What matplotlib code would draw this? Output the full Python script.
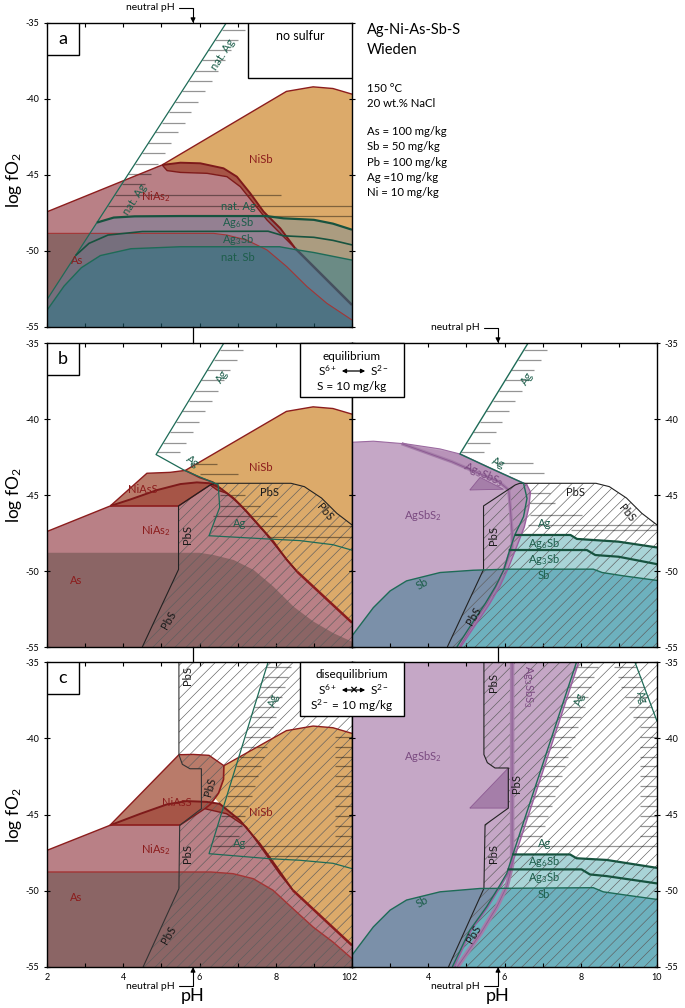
import numpy as np
import matplotlib
matplotlib.use("Agg")
import matplotlib.pyplot as plt
from matplotlib.patches import Polygon, Rectangle, FancyArrowPatch

plt.rcParams['font.family'] = ['Lato', 'DejaVu Sans']
plt.rcParams['mathtext.fontset'] = 'custom'
plt.rcParams['mathtext.rm'] = 'Lato'
plt.rcParams['mathtext.it'] = 'Lato:italic'
plt.rcParams['mathtext.bf'] = 'Lato:bold'
plt.rcParams['hatch.linewidth'] = 0.45
plt.rcParams['axes.unicode_minus'] = False

W, H = 685, 1008
NEUTRAL_PH = 5.83

# ---------------- panel a : no sulfur ----------------
a_ni_top = [(2.0, -47.42), (5.02, -44.34), (8.28, -39.5), (8.98, -39.2), (9.5, -39.31), (10.0, -39.68)]
a_band_up = [(5.02, -44.34), (5.50, -44.19), (6.02, -44.23), (6.63, -44.56), (6.98, -45.11), (7.33, -46.20),
             (7.68, -47.41), (8.12, -48.51), (8.51, -49.82)]
a_band_lo = [(5.02, -44.34), (5.15, -44.71), (5.50, -44.83), (6.20, -44.89), (6.72, -45.11), (7.07, -45.77),
             (7.42, -46.86), (7.77, -47.96), (8.12, -48.84), (8.51, -49.82)]
a_tail = [(8.51, -49.82), (10.0, -53.55)]
a_as_top = [(2.0, -48.84), (6.37, -48.84), (6.72, -48.95), (7.24, -49.28), (7.77, -49.93), (8.29, -51.03),
            (8.82, -52.34), (9.34, -53.44), (10.0, -54.54)]
a_ag = [(2.0, -53.2), (6.70, -35.0)]
a_ag6sb_top = [(3.31, -48.13), (3.75, -47.8), (4.3, -47.72), (5.5, -47.7), (7.75, -47.7), (8.2, -47.85),
               (9.0, -47.95), (9.5, -48.2), (10.0, -48.6)]
a_ag3sb_top = [(2.75, -50.3), (3.1, -49.5), (3.6, -48.95), (4.5, -48.72), (7.8, -48.7), (8.2, -49.0),
               (9.0, -49.1), (9.5, -49.3), (10.0, -49.6)]
a_sb_top = [(2.0, -53.9), (2.45, -52.3), (2.9, -51.1), (3.4, -50.3), (4.2, -49.85), (5.5, -49.72),
            (8.1, -49.72), (8.5, -49.9), (9.0, -50.1), (10.0, -50.6)]
a_ag_ticks = [-35.45, -36.1, -36.8, -37.45, -38.15, -38.8, -39.5, -40.2, -40.85, -41.55, -42.2, -42.9,
              -43.55, -44.25, -44.95, -45.6]
a_ag_long = [(-46.32, 8.13), (-47.02, 10.0)]
a_ag_segs = [(-47.7, 7.6, 10.0)]

# ---------------- panel b : equilibrium, Ni side ----------------
b_ni_top = [(2.0, -47.40), (3.66, -45.72), (4.62, -43.57), (5.23, -43.51), (5.63, -43.38), (8.28, -39.5),
            (8.98, -39.2), (9.5, -39.31), (10.0, -39.68)]
b_niass_nisb = [(5.63, -43.38), (6.0, -43.85), (6.35, -44.15), (6.55, -44.56)]
b_band_up = [(3.66, -45.72), (4.19, -45.29), (4.88, -44.68), (5.50, -44.28), (5.93, -44.17), (6.28, -44.23),
             (6.55, -44.56), (6.90, -45.22), (7.24, -46.09), (7.59, -47.08), (7.94, -48.07), (8.29, -49.27),
             (8.56, -50.04)]
b_band_lo = [(3.66, -45.72), (5.45, -45.72), (6.28, -44.34), (6.46, -44.67), (6.72, -44.89), (7.07, -45.66),
             (7.42, -46.64), (7.77, -47.63), (8.12, -48.73), (8.56, -50.04)]
b_tail = [(8.56, -50.04), (10.0, -53.4)]
b_as_top = [(2.0, -48.80), (6.0, -48.80), (6.37, -48.95), (6.90, -49.28), (7.42, -49.93), (7.94, -51.03),
            (8.47, -52.35), (8.99, -53.33), (9.52, -54.10), (10.0, -54.65)]
b_pbs = [(4.50, -55.0), (5.45, -49.9), (5.45, -45.72), (6.28, -44.34), (6.40, -44.23), (8.40, -44.23),
         (8.75, -44.45), (9.20, -45.20), (9.60, -46.20), (10.0, -46.97)]
bl_ag = [(6.64, -35.0), (4.86, -42.34), (5.62, -43.40), (6.49, -44.32), (6.53, -45.81), (6.25, -47.68),
         (7.84, -47.90), (8.63, -48.0), (9.50, -48.27), (10.0, -48.63)]
b_ag_ticks = [-35.45, -36.1, -36.8, -37.45, -38.15, -38.8, -39.5, -40.2, -40.85, -41.55, -42.2]
bl_ag_segs = [(-42.96, 5.75, 6.45), (-43.62, 6.01, 7.01), (-44.98, 6.53, 7.19), (-45.70, 6.53, 7.58),
              (-46.36, 6.36, 8.02), (-47.07, 6.36, 10.0), (-47.75, 7.76, 10.0)]

# ---------------- panel b : equilibrium, Ag side ----------------
br_ag = [(6.62, -35.0), (4.83, -42.30), (5.6, -43.2), (6.32, -44.02), (6.50, -44.23), (6.59, -45.22),
         (6.50, -46.42), (6.27, -47.63), (6.11, -48.83), (5.98, -49.93), (5.76, -51.03), (5.50, -52.12),
         (5.15, -53.44), (4.75, -55.0)]
br_purple = [(2.0, -41.53), (2.56, -41.46), (3.43, -41.64), (4.31, -41.97), (4.83, -42.30), (5.6, -43.2),
             (6.32, -44.02), (6.58, -44.3), (6.68, -44.8), (6.64, -45.8), (6.52, -47.1), (6.32, -48.4),
             (6.10, -49.8), (5.88, -51.0), (5.60, -52.2), (5.25, -53.5), (4.85, -55.0)]
br_inner = [(3.3, -41.62), (4.62, -42.81), (5.32, -43.57), (5.85, -44.12), (6.11, -44.67), (6.15, -45.77),
            (6.20, -47.52), (6.20, -48.4), (6.11, -49.05), (5.98, -49.93), (5.80, -50.95), (5.55, -52.1),
            (5.2, -53.4), (4.82, -55.0)]
br_notch = [(5.09, -44.67), (5.36, -43.84), (5.97, -44.62)]
br_ag6sb_top = [(6.27, -47.63), (7.73, -47.63), (7.90, -47.89), (8.99, -48.07), (10.0, -48.45)]
br_ag3sb_top = [(6.11, -48.62), (8.16, -48.62), (8.38, -48.95), (8.99, -49.06), (10.0, -49.55)]
br_sb_top = [(2.0, -54.27), (2.56, -52.41), (3.0, -51.31), (3.43, -50.65), (4.31, -50.10), (5.18, -49.95),
             (6.06, -49.88), (8.33, -49.88), (8.56, -50.1), (9.12, -50.32), (10.0, -50.62)]
br_ag_segs = [(-42.92, 5.76, 6.76), (-43.58, 6.11, 7.03), (-44.89, 6.63, 7.20), (-45.55, 6.63, 7.33),
              (-46.31, 6.66, 8.03), (-46.97, 6.62, 10.0), (-47.3, 7.75, 10.0)]

# ---------------- panel c : disequilibrium, Ni side ----------------
c_ni_top = [(2.0, -47.35), (3.65, -45.71), (5.46, -41.08), (5.83, -41.06), (6.25, -41.12), (6.64, -41.8),
            (8.28, -39.5), (8.98, -39.2), (9.5, -39.31), (10.0, -39.68)]
c_niass_nisb = [(6.64, -41.8), (6.63, -42.7), (6.5, -43.6), (6.3, -44.3), (6.14, -44.62)]
c_band_up = [(3.65, -45.71), (4.44, -44.96), (5.14, -44.34), (5.66, -44.12), (6.18, -44.17), (6.53, -44.30),
             (7.06, -45.38), (7.58, -46.91), (8.02, -48.44), (8.45, -49.97)]
c_band_lo = [(3.65, -45.71), (5.48, -45.71), (6.14, -44.62), (6.71, -44.95), (7.23, -45.82), (7.67, -47.35),
             (8.10, -48.88), (8.45, -49.97)]
c_tail = [(8.45, -49.97), (10.0, -53.58)]
c_as_top = [(2.0, -48.77), (6.3, -48.77), (6.88, -48.88), (7.41, -49.21), (7.93, -49.97), (8.45, -51.17),
            (8.98, -52.38), (9.50, -53.36), (10.0, -54.45)]
cl_pbs = [(4.52, -55.0), (5.46, -49.86), (5.48, -45.71), (6.05, -44.62), (6.05, -42.0), (5.75, -42.0),
          (5.55, -41.71), (5.46, -41.08), (5.46, -35.0)]
cl_ag = [(7.80, -35.0), (6.25, -47.57), (7.84, -47.90), (8.63, -48.0), (9.50, -48.2), (10.0, -48.55)]
c_ag_ticks = [-35.35, -36.0, -36.65, -37.3, -37.95, -38.6, -39.25, -39.9, -40.55, -41.2, -41.85, -42.5,
              -43.15, -43.8, -44.45, -45.1, -45.75, -46.4]
c_edge_ticks = [-39.9, -40.55, -41.2, -41.85, -42.5, -43.15, -43.8, -44.45, -45.1, -45.75, -46.4]
c_ag_segs = [(-47.07, 6.32, 10.0), (-47.75, 7.8, 10.0)]

# ---------------- panel c : disequilibrium, Ag side ----------------
cr_pbs = [(4.53, -55.0), (5.46, -49.85), (5.49, -45.68), (6.10, -44.58), (6.10, -41.95), (5.75, -41.95),
          (5.55, -41.6), (5.46, -41.07), (5.46, -35.0)]
cr_ag = [(7.89, -35.0), (6.23, -47.54), (6.06, -48.86), (5.88, -49.63), (5.53, -51.05), (5.09, -52.59),
         (4.63, -55.0)]
cr_ag_edge = [(9.42, -35.0), (10.0, -38.88)]
cr_purple = [(2.0, -35.0), (7.95, -35.0), (6.30, -47.54), (6.10, -48.86), (5.92, -49.63), (5.57, -51.05),
             (5.13, -52.59), (4.68, -55.0)]
cr_inner = [(6.20, -35.0), (6.20, -48.3), (6.06, -49.7), (5.80, -51.05), (5.37, -52.81), (4.76, -55.0)]
cr_notch = [(5.09, -44.58), (6.10, -41.95), (6.10, -44.58)]
cr_ag6sb_top = [(6.20, -47.62), (7.72, -47.62), (7.89, -47.87), (8.68, -47.98), (10.0, -48.5)]
cr_ag3sb_top = [(6.08, -48.6), (8.02, -48.6), (8.24, -48.93), (8.68, -49.04), (10.0, -49.52)]
cr_sb_top = [(2.0, -54.23), (2.56, -52.37), (3.0, -51.27), (3.43, -50.61), (4.31, -50.07), (5.36, -49.85),
             (8.33, -49.80), (8.59, -50.07), (9.2, -50.29), (10.0, -50.57)]
cr_edge_line_ticks = [-35.35, -36.0, -36.65, -37.3, -37.95, -38.6]

# ---------------- labels ----------------
a_labels = [('nat. Ag', 6.62, -37.1, 57, 'ag'), ('nat. Ag', 4.3, -46.6, 57, 'ag'), ('NiSb', 7.62, -43.97, 0, 'ni'),
            ('NiAs$_2$', 4.86, -46.43, 0, 'ni'), ('nat. Ag', 7.01, -47.09, 0, 'ag'),
            ('Ag$_6$Sb', 7.0, -48.14, 0, 'ag'), ('Ag$_3$Sb', 7.0, -49.24, 0, 'ag'),
            ('nat. Sb', 7.0, -50.43, 0, 'ag'), ('As', 2.78, -50.6, 0, 'ni')]
bl_labels = [('Ag', 6.6, -37.2, 57, 'ag'), ('Ag', 5.83, -42.81, -36, 'ag'), ('NiSb', 7.62, -43.18, 0, 'ni'),
             ('NiAsS', 4.52, -44.67, 0, 'ni'), ('PbS', 7.84, -44.82, 0, 'pbs'), ('PbS', 9.28, -46.14, -50, 'pbs'),
             ('NiAs$_2$', 4.86, -47.31, 0, 'ni'), ('PbS', 5.69, -47.57, 90, 'pbs'), ('Ag', 7.06, -46.87, 0, 'ag'),
             ('As', 2.76, -50.6, 0, 'ni'), ('PbS', 5.18, -53.2, 60, 'pbs')]
br_labels = [('Ag', 6.6, -37.3, 57, 'ag'), ('Ag', 5.84, -42.85, -25, 'ag'),
             ('Ag$_3$SbS$_3$', 5.44, -43.62, -25, 'pur'), ('AgSbS$_2$', 3.87, -46.36, 0, 'pur'),
             ('PbS', 7.87, -44.82, 0, 'pbs'), ('PbS', 9.22, -46.21, -50, 'pbs'), ('PbS', 5.72, -47.68, 90, 'pbs'),
             ('Ag', 7.04, -46.87, 0, 'ag'), ('Ag$_6$Sb', 7.03, -48.19, 0, 'ag'), ('Ag$_3$Sb', 7.03, -49.22, 0, 'ag'),
             ('Sb', 7.03, -50.32, 0, 'ag'), ('Sb', 3.83, -50.87, 30, 'ag'), ('PbS', 5.18, -52.96, 60, 'pbs')]
cl_labels = [('PbS', 5.69, -35.87, 90, 'pbs'), ('Ag', 7.95, -37.5, 73, 'ag'), ('PbS', 6.29, -43.2, 75, 'pbs'),
             ('NiAsS', 5.40, -44.22, 0, 'ni'), ('NiSb', 7.62, -44.84, 0, 'ni'), ('NiAs$_2$', 4.86, -47.31, 0, 'ni'),
             ('PbS', 5.69, -47.57, 90, 'pbs'), ('Ag', 7.06, -46.91, 0, 'ag'), ('As', 2.76, -50.45, 0, 'ni'),
             ('PbS', 5.18, -52.92, 60, 'pbs')]
cr_labels = [('PbS', 5.71, -36.36, 90, 'pbs'), ('Ag$_3$SbS$_3$', 6.62, -36.6, -90, 'pur'),
             ('Ag', 7.98, -37.45, 73, 'ag'), ('Ag', 9.6, -37.3, -70, 'ag'), ('AgSbS$_2$', 3.87, -41.18, 0, 'pur'),
             ('PbS', 6.32, -42.94, 90, 'pbs'), ('PbS', 5.72, -47.54, 90, 'pbs'), ('Ag', 7.04, -46.89, 0, 'ag'),
             ('Ag$_6$Sb', 7.03, -48.09, 0, 'ag'), ('Ag$_3$Sb', 7.03, -49.12, 0, 'ag'), ('Sb', 7.03, -50.22, 0, 'ag'),
             ('Sb', 3.83, -50.72, 30, 'ag'), ('PbS', 5.18, -52.81, 60, 'pbs')]

info_lines = ['150 °C', '20 wt.% NaCl', '', 'As = 100 mg/kg', 'Sb = 50 mg/kg', 'Pb = 100 mg/kg',
              'Ag =10 mg/kg', 'Ni = 10 mg/kg']

# ---------------- styles ----------------
C_NISB = '#dcaa6a'
C_NIAS2 = '#b98086'
C_AS = '#8b6565'
C_BAND = '#a65547'
C_NIASS = '#b97b6a'
C_PUR = '#c5a7c6'
C_PUR2 = '#b893b9'
C_PUR3 = '#a57ea9'
C_TEAL_L = '#a9d4d7'
C_TEAL = '#6db1be'
NI_RED = '#8c1d1d'
AG_GREEN = '#1e6b57'
AG_DARK = '#17533f'
PUR_LINE = '#8d5b93'
TICK_GRAY = (0.0, 0.0, 0.0, 0.42)
LAB_COL = {'ni': '#8b1c1c', 'ag': '#1d5e4b', 'pbs': '#1a1a1a', 'pur': '#7a4a80'}


def fill(ax, pts, color, z=1.0, alpha=1.0):
    p = Polygon(pts, closed=True, facecolor=color, edgecolor='none', alpha=alpha, zorder=z)
    ax.add_patch(p)
    return p


def hatch(ax, pts, z=2.0):
    p = Polygon(pts, closed=True, facecolor='none', edgecolor='#5e5e5e', lw=0, hatch='///', zorder=z)
    ax.add_patch(p)


def line(ax, pts, color, lw=1.0, z=4.0):
    x, y = np.array(pts).T
    ax.plot(x, y, color=color, lw=lw, zorder=z, solid_joinstyle='round', solid_capstyle='butt')


def hseg(ax, x0, x1, y):
    ax.plot([x0, x1], [y, y], color=TICK_GRAY, lw=0.9, zorder=3.5, solid_capstyle='butt')


def ag_ticks(ax, boundary, levels, length):
    bx, by = np.array(boundary, dtype=float).T
    order = np.argsort(by)
    for y in levels:
        x0 = np.interp(y, by[order], bx[order])
        hseg(ax, x0, float(np.clip(x0 + length, 2, 10)), y)


def ag_long(ax, boundary, pairs):
    bx, by = np.array(boundary, dtype=float).T
    order = np.argsort(by)
    for y, xe in pairs:
        hseg(ax, np.interp(y, by[order], bx[order]), xe, y)


def ag_segs(ax, segs):
    for y, x0, x1 in segs:
        hseg(ax, x0, x1, y)


def labels(ax, items, size=8):
    for s, x, y, rot, kind in items:
        ax.text(x, y, s, color=LAB_COL[kind], rotation=rot, ha='center', va='center', fontsize=size,
                zorder=6, rotation_mode='anchor')


def setup(ax, left=False, right=False, bottom=False):
    ax.set_xlim(2, 10)
    ax.set_ylim(-55, -35)
    ax.set_xticks(range(2, 11))
    ax.set_xticklabels([str(v) if v % 2 == 0 else '' for v in range(2, 11)])
    ax.set_yticks([-35, -40, -45, -50, -55])
    ax.tick_params(axis='x', direction='in', length=3, width=0.8, top=True, bottom=True,
                   labelbottom=bottom, labelsize=6.5, pad=4)
    ax.tick_params(axis='y', direction='inout', length=5, width=0.8, left=True, right=True,
                   labelleft=left, labelright=right, labelsize=6.5, pad=3)
    for s in ax.spines.values():
        s.set_linewidth(1.0)
        s.set_zorder(5)


def letter_box(ax, s):
    ax.add_patch(Rectangle((0, 1 - 32 / 304), 32 / 305, 32 / 304, transform=ax.transAxes,
                           fc='white', ec='black', lw=1.0, zorder=7))
    ax.text(16 / 305, 1 - 16 / 304, s, transform=ax.transAxes, ha='center', va='center', fontsize=13, zorder=8)


fig = plt.figure(figsize=(W / 100, H / 100), dpi=100)


def add_panel(x0, y0, x1, y1):
    return fig.add_axes([x0 / W, 1 - y1 / H, (x1 - x0) / W, (y1 - y0) / H])


ax_a = add_panel(47, 23, 352, 327)
ax_bl = add_panel(47, 343, 352, 647)
ax_br = add_panel(352, 343, 657, 647)
ax_cl = add_panel(47, 662, 352, 967)
ax_cr = add_panel(352, 662, 657, 967)

# ---------- panel a ----------
ax = ax_a
fill(ax, a_ni_top[1:] + [a_tail[1]] + a_band_up[::-1], C_NISB)
fill(ax, a_ni_top[:2] + a_band_lo[1:] + [a_tail[1], (10, -55), (2, -55)], C_NIAS2)
fill(ax, a_band_up + a_band_lo[::-1], C_BAND, z=1.1)
fill(ax, a_as_top + [(10, -55), (2, -55)], C_AS, z=1.2)
fill(ax, [a_ag[0], a_ag6sb_top[0]] + a_ag6sb_top + [(10, -55), (2, -55)], (80 / 255, 130 / 255, 170 / 255),
     z=1.5, alpha=0.35)
fill(ax, a_sb_top + [(10, -55), (2, -55)], (30 / 255, 120 / 255, 140 / 255), z=1.6, alpha=0.45)
ag_ticks(ax, a_ag, a_ag_ticks, 0.6)
ag_long(ax, a_ag, a_ag_long)
ag_segs(ax, a_ag_segs)
line(ax, a_ni_top, NI_RED, 1.0)
line(ax, a_band_up, '#7e1a1a', 1.4)
line(ax, a_band_lo, '#7e1a1a', 1.0)
line(ax, a_tail, '#46505e', 1.8)
line(ax, a_as_top, '#a33535', 0.8)
line(ax, a_ag, AG_GREEN, 0.9)
line(ax, a_ag6sb_top, AG_DARK, 1.6)
line(ax, a_ag3sb_top, AG_DARK, 1.2)
line(ax, a_sb_top, AG_GREEN, 1.0)
labels(ax, a_labels)
setup(ax, left=True)
letter_box(ax, 'a')
ax.add_patch(Rectangle(((248 - 47) / 305, 1 - 55 / 304), (352 - 248) / 305, 55 / 304, transform=ax.transAxes,
                       fc='white', ec='black', lw=1.0, zorder=7))
ax.text((300 - 47) / 305, 1 - 13 / 304, 'no sulfur', transform=ax.transAxes, ha='center', va='center',
        fontsize=9, zorder=8)

# ---------- panel b, left ----------
ax = ax_bl
fill(ax, b_ni_top[4:] + [b_tail[1]] + b_band_up[:5:-1] + b_niass_nisb[-2::-1], C_NISB)
fill(ax, b_ni_top[:2] + b_band_lo[1:] + [b_tail[1], (10, -55), (2, -55)], C_NIAS2)
fill(ax, b_ni_top[1:5] + b_niass_nisb[1:] + [(6.28, -44.34), (5.45, -45.72)], C_NIASS, z=1.05)
fill(ax, b_band_up + b_band_lo[::-1], C_BAND, z=1.1)
fill(ax, b_as_top + [(10, -55), (2, -55)], C_AS, z=1.2)
hatch(ax, b_pbs + [(10, -55)])
ag_ticks(ax, bl_ag[:2], b_ag_ticks, 0.6)
ag_segs(ax, bl_ag_segs)
line(ax, b_ni_top, NI_RED, 1.0)
line(ax, b_niass_nisb, NI_RED, 1.2)
line(ax, b_band_up, '#7e1a1a', 1.4)
line(ax, b_band_lo[1:], '#7e1a1a', 1.0)
line(ax, [b_band_lo[0], b_band_lo[1]], NI_RED, 1.2)
line(ax, b_tail, NI_RED, 1.8)
line(ax, b_pbs, '#222222', 0.8)
line(ax, bl_ag, AG_GREEN, 0.9)
labels(ax, bl_labels)
setup(ax, left=True)
letter_box(ax, 'b')

# ---------- panel b, right ----------
ax = ax_br
fill(ax, br_ag6sb_top + [(10, -55)] + br_ag[13:7:-1], C_TEAL_L)
fill(ax, br_sb_top + [(10, -55), (2, -55)], C_TEAL, z=1.05)
pur = fill(ax, br_purple + [(2, -55)], C_PUR, z=1.1)
fill(ax, br_inner + br_purple[-1:3:-1], C_PUR2, z=1.15)
fill(ax, br_notch, C_PUR3, z=1.2)
sbg = fill(ax, br_sb_top + [(10, -55), (2, -55)], '#6e8ca4', z=1.3, alpha=0.85)
sbg.set_clip_path(pur)
hatch(ax, b_pbs + [(10, -55)])
ag_ticks(ax, br_ag[:2], b_ag_ticks, 0.6)
ag_segs(ax, br_ag_segs)
line(ax, br_purple[:5], '#9b6aa0', 0.8)
line(ax, br_purple[4:], '#9b5fa0', 1.0)
line(ax, br_inner, C_PUR3, 2.4, z=3.8)
line(ax, br_inner, PUR_LINE, 0.7, z=3.9)
line(ax, br_notch + br_notch[:1], PUR_LINE, 0.6)
line(ax, b_pbs, '#222222', 0.8)
line(ax, br_ag, AG_GREEN, 1.0)
line(ax, br_ag6sb_top, AG_DARK, 1.6)
line(ax, br_ag3sb_top, AG_DARK, 1.6)
line(ax, br_sb_top, AG_GREEN, 1.0)
labels(ax, br_labels)
setup(ax, right=True)

# ---------- panel c, left ----------
ax = ax_cl
fill(ax, c_ni_top[5:] + [c_tail[1]] + c_band_up[:4:-1] + [(6.37, -43.83), (6.55, -42.74)], C_NISB)
fill(ax, c_ni_top[:2] + c_band_lo[1:] + [c_tail[1], (10, -55), (2, -55)], C_NIAS2)
fill(ax, c_ni_top[1:6] + c_niass_nisb[1:] + [(5.48, -45.71)], C_NIASS, z=1.05)
fill(ax, c_band_up + c_band_lo[::-1], C_BAND, z=1.1)
fill(ax, c_as_top + [(10, -55), (2, -55)], C_AS, z=1.2)
hatch(ax, cl_pbs + [(10, -35), (10, -55)])
ag_ticks(ax, cl_ag[:2], c_ag_ticks, 0.65)
ag_ticks(ax, [(10, -55), (10, -35)], c_edge_ticks, -0.45)
ag_segs(ax, c_ag_segs)
line(ax, c_ni_top, NI_RED, 1.0)
line(ax, c_niass_nisb, NI_RED, 1.2)
line(ax, c_band_up, '#7e1a1a', 1.4)
line(ax, c_band_lo[1:], '#7e1a1a', 1.0)
line(ax, [c_band_lo[0], c_band_lo[1]], NI_RED, 1.2)
line(ax, c_tail, NI_RED, 1.8)
line(ax, c_as_top, '#a33535', 1.0)
line(ax, cl_pbs, '#333333', 0.8)
line(ax, cl_ag, AG_GREEN, 0.9)
labels(ax, cl_labels)
setup(ax, left=True, bottom=True)
ax.get_xticklabels()[-1].set_horizontalalignment('right')
letter_box(ax, 'c')

# ---------- panel c, right ----------
ax = ax_cr
fill(ax, cr_ag6sb_top + [(10, -55)] + cr_ag[6:1:-1], C_TEAL_L)
fill(ax, cr_sb_top + [(10, -55), (2, -55)], C_TEAL, z=1.05)
pur = fill(ax, cr_purple + [(2, -55)], C_PUR, z=1.1)
fill(ax, cr_notch, C_PUR3, z=1.2)
sbg = fill(ax, cr_sb_top + [(10, -55), (2, -55)], '#6e8ca4', z=1.3, alpha=0.85)
sbg.set_clip_path(pur)
hatch(ax, cr_pbs + [(10, -35), (10, -55)])
ag_ticks(ax, cr_ag[:2], c_ag_ticks, 0.6)
ag_ticks(ax, cr_ag_edge, cr_edge_line_ticks, -0.6)
ag_ticks(ax, [(10, -55), (10, -35)], [-39.25] + c_edge_ticks, -0.45)
ag_segs(ax, [(-47.07, 6.3, 10.0)])
line(ax, cr_purple[1:], '#9b5fa0', 1.0)
line(ax, cr_inner, C_PUR3, 3.2, z=3.8)
line(ax, cr_inner, PUR_LINE, 0.6, z=3.9)
line(ax, cr_notch + cr_notch[:1], PUR_LINE, 0.6)
line(ax, cr_pbs, '#222222', 0.8)
line(ax, cr_ag, AG_GREEN, 1.0)
line(ax, cr_ag_edge, AG_GREEN, 0.9)
line(ax, cr_ag6sb_top, AG_DARK, 1.6)
line(ax, cr_ag3sb_top, AG_DARK, 1.6)
line(ax, cr_sb_top, AG_GREEN, 1.0)
labels(ax, cr_labels)
setup(ax, right=True, bottom=True)
ax.get_xticklabels()[0].set_horizontalalignment('left')

# ---------- neutral pH markers ----------
arrow_kw = dict(arrowstyle='-|>', connectionstyle='angle,angleA=0,angleB=90,rad=0', lw=0.8, color='black',
                shrinkA=1, shrinkB=0, mutation_scale=7, relpos=(1, 0.5))
for ax in (ax_a, ax_br):
    ax.annotate('neutral pH', xy=(NEUTRAL_PH, -35), xytext=(-13, 11), textcoords='offset points',
                ha='right', va='center', fontsize=7.5, arrowprops=arrow_kw, annotation_clip=False)
for ax in (ax_cl, ax_cr):
    ax.annotate('neutral pH', xy=(NEUTRAL_PH, -55), xytext=(-13, -14), textcoords='offset points',
                ha='right', va='center', fontsize=7.5, arrowprops=arrow_kw, annotation_clip=False)
# connectors across the gaps between stacked panels
for ax, gap in ((ax_bl, 16), (ax_cl, 15), (ax_cr, 15)):
    ax.plot([NEUTRAL_PH, NEUTRAL_PH], [-35, -35 + gap / 15.2], color='black', lw=0.9, clip_on=False, zorder=6)


# ---------- equilibrium boxes ----------
def fig_box(x0, y0, x1, y1):
    fig.add_artist(Rectangle((x0 / W, 1 - y1 / H), (x1 - x0) / W, (y1 - y0) / H, transform=fig.transFigure,
                             fc='white', ec='black', lw=1.0, zorder=10))


def ftext(x, y, s, **kw):
    fig.text(x / W, 1 - y / H, s, zorder=11, **kw)


def farrow(x0, x1, y):
    fig.add_artist(FancyArrowPatch((x0 / W, 1 - y / H), (x1 / W, 1 - y / H), transform=fig.transFigure,
                                   arrowstyle='<|-|>', mutation_scale=6, lw=0.9, color='black', zorder=11))


fig_box(300, 343, 404, 397)
ftext(352, 356, 'equilibrium', ha='center', va='center', fontsize=8.5)
ftext(327, 371, 'S$^{6+}$', ha='center', va='center', fontsize=8.5)
farrow(339, 368, 371)
ftext(379, 371, 'S$^{2-}$', ha='center', va='center', fontsize=8.5)
ftext(352, 387, 'S = 10 mg/kg', ha='center', va='center', fontsize=8.5)

fig_box(300, 662, 404, 716)
ftext(352, 675, 'disequilibrium', ha='center', va='center', fontsize=8.5)
ftext(327, 690, 'S$^{6+}$', ha='center', va='center', fontsize=8.5)
farrow(339, 368, 690)
ftext(353, 690, '×', ha='center', va='center', fontsize=10, fontweight='bold')
ftext(379, 690, 'S$^{2-}$', ha='center', va='center', fontsize=8.5)
ftext(352, 706, 'S$^{2-}$ = 10 mg/kg', ha='center', va='center', fontsize=8.5)

# ---------- titles, axis labels ----------
ftext(367, 30, 'Ag-Ni-As-Sb-S', ha='left', va='center', fontsize=10.5)
ftext(367, 50, 'Wieden', ha='left', va='center', fontsize=10.5)
y_info = 88
for s in info_lines:
    if s:
        ftext(367, y_info, s, ha='left', va='center', fontsize=8.2)
    y_info += 15.3 if s else 13

for yc in (180, 495, 815):
    ftext(14, yc, 'log fO$_2$', ha='center', va='center', rotation=90, fontsize=12.5)
for xc in (193, 498):
    ftext(xc, 996, 'pH', ha='center', va='center', fontsize=13)

fig.savefig('out.png', dpi=100)
